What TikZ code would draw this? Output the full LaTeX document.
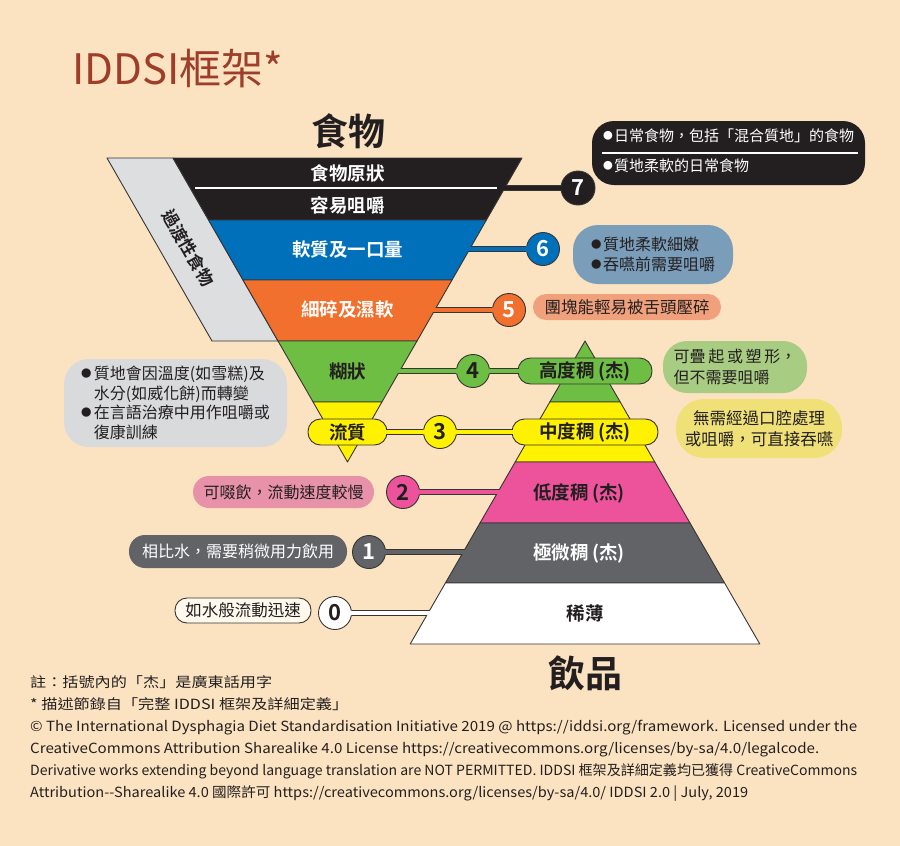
\documentclass[tikz,border=0pt]{standalone}
\usepackage{fontspec}
\usepackage{graphicx}
\setmainfont{Noto Sans CJK TC}[BoldFont={Noto Sans CJK TC Bold}]
\pgfdeclarelayer{bg}
\pgfdeclarelayer{fg}
\pgfsetlayers{bg,main,fg}

\definecolor{paper}{RGB}{251,227,193}
\definecolor{edgec}{RGB}{55,52,53}
\definecolor{txt}{RGB}{35,31,32}
\definecolor{ttl}{RGB}{158,62,42}
\definecolor{blk}{RGB}{35,31,32}
\definecolor{blu}{RGB}{0,112,187}
\definecolor{org}{RGB}{241,112,45}
\definecolor{grn}{RGB}{110,190,68}
\definecolor{yel}{RGB}{255,242,0}
\definecolor{pnk}{RGB}{236,83,155}
\definecolor{gry}{RGB}{98,99,102}
\definecolor{trans}{RGB}{221,222,224}
\definecolor{note6}{RGB}{122,157,185}
\definecolor{note5}{RGB}{240,160,122}
\definecolor{note4}{RGB}{168,204,130}
\definecolor{note3}{RGB}{239,224,120}
\definecolor{noteL}{RGB}{216,218,220}
\definecolor{note2}{RGB}{231,146,168}
\definecolor{note0}{RGB}{255,248,236}

\newcommand{\fsz}[1]{\fontsize{#1}{#1}\selectfont}
\newcommand{\bul}[1][11pt]{\makebox[#1][l]{\raisebox{.13em}{\scalebox{.65}{●}}}}

\tikzset{
  band/.style={draw=edgec, line width=0.9pt, line join=round},
  lbl/.style={font=\bfseries\fsz{18.5}, text=white, inner sep=0pt},
  numdot/.style={circle, draw=edgec, line width=0.9pt, minimum size=33pt,
    inner sep=0pt, font=\bfseries\fsz{22}},
  tab/.style={rectangle, rounded corners=12.5pt, draw=edgec, line width=0.9pt,
    minimum height=26pt, inner sep=0pt, font=\bfseries\fsz{18.5}, text=txt},
  note/.style={rectangle, inner sep=0pt, text=txt, font=\fsz{16}},
  wire/.style={line width=5.5pt, draw=edgec},
  core/.style={line width=3.6pt, shorten <=-1.5pt, shorten >=-1.5pt},
  foot/.style={anchor=base west, inner sep=0pt, font=\fsz{14}, text=txt},
}

\begin{document}
\begin{tikzpicture}[x=1pt,y=-1pt]
        \begin{pgfonlayer}{bg}
                \fill[paper] (0,0) rectangle (900,846);
        \end{pgfonlayer}

        % title and headings
        \node (title) [anchor=base west, inner sep=0pt, font=\fsz{42}, text=ttl] at (72,84) {IDDSI框架*};
        \node (food) [font=\bfseries\fsz{37}, text=txt] at (348,131) {食物};
        \node (drink) [font=\bfseries\fsz{37}, text=txt] at (585,673) {飲品};

        % food: inverted triangle
        \draw[band, fill=trans] (107,158) -- (173,158) -- (278,341) -- (212,341) -- cycle;
        \draw[band, fill=blk] (173,158) -- (522,158) -- (486.4,220) -- (208.6,220) -- cycle;
        \draw[band, fill=blu] (208.6,220) -- (486.4,220) -- (452,280) -- (243,280) -- cycle;
        \draw[band, fill=org] (243,280) -- (452,280) -- (417,341) -- (278,341) -- cycle;
        \draw[band, fill=grn] (278,341) -- (417,341) -- (381.9,402) -- (313.1,402) -- cycle;
        \draw[band, fill=yel] (313.1,402) -- (381.9,402) -- (347.5,462) -- cycle;
        \draw[white, line width=1.5pt] (195,188) -- (500,188);

        % drinks: pyramid
        \draw[band, fill=grn] (585,341) -- (620.2,402) -- (549.8,402) -- cycle;
        \draw[band, fill=yel] (549.8,402) -- (620.2,402) -- (654.8,462) -- (515.2,462) -- cycle;
        \draw[band, fill=pnk] (515.2,462) -- (654.8,462) -- (690,523) -- (480,523) -- cycle;
        \draw[band, fill=gry] (480,523) -- (690,523) -- (724.6,583) -- (445.4,583) -- cycle;
        \draw[band, fill=white] (445.4,583) -- (724.6,583) -- (759.8,644) -- (410.2,644) -- cycle;

        % connector ends inside the bands
        \coordinate (e7) at (498,188);
        \coordinate (e6) at (463,249);
        \coordinate (e5) at (428,310);
        \coordinate (e4) at (393,371);
        \coordinate (e2) at (504,492);
        \coordinate (e1) at (470,552);
        \coordinate (e0) at (434,613);

        % tabs
        \node (t4) [tab, fill=grn, minimum width=134pt] at (585,371) {高度稠\,(杰)};
        \node (t3a) [tab, fill=yel, minimum width=79pt] at (347.5,432) {流質};
        \node (t3b) [tab, fill=yel, minimum width=146pt] at (585,432) {中度稠\,(杰)};

        % level numbers
        \node (c7) [numdot, fill=blk, text=white, minimum size=34pt] at (578,188) {7};
        \node (c6) [numdot, fill=blu, text=white] at (543,249) {6};
        \node (c5) [numdot, fill=org, text=white] at (509,310) {5};
        \node (c4) [numdot, fill=grn, text=txt] at (473,371) {4};
        \node (c3) [numdot, fill=yel, text=txt] at (440,432) {3};
        \node (c2) [numdot, fill=pnk, text=txt] at (403,492) {2};
        \node (c1) [numdot, fill=gry, text=white] at (369,552) {1};
        \node (c0) [numdot, fill=white, text=txt] at (335,613) {0};

        % band labels
        \node (l7a) [lbl] at (347.5,173) {食物原狀};
        \node (l7b) [lbl] at (347.5,205) {容易咀嚼};
        \node (l6) [lbl] at (347.5,250) {軟質及一口量};
        \node (l5) [lbl] at (347.5,310) {細碎及濕軟};
        \node (l4) [lbl, text=txt] at (347.5,371) {糊狀};
        \node (l2) [lbl, text=txt] at (579,493) {低度稠\,(杰)};
        \node (l1) [lbl] at (579,553) {極微稠\,(杰)};
        \node (l0) [lbl, text=txt] at (585,613) {稀薄};
        \node (trn) [font=\bfseries\fsz{17}, text=txt, rotate=-60.2] at (188,248) {過渡性食物};

        % notes
        \node (b7) [note, fill=blk, minimum width=273pt, minimum height=64pt, rounded corners=22pt] at (728.5,153) {};
        \node (b7a) [note, text=white, font=\fsz{15}, anchor=west] at (603,136) {\bul 日常食物，包括「混合質地」的食物};
        \node (b7b) [note, text=white, font=\fsz{15}, anchor=west] at (603,166) {\bul 質地柔軟的日常食物};
        \draw[white, line width=1.2pt] ([xshift=10pt]b7.west) -- ([xshift=-7pt]b7.east);
        \node (b6) [note, fill=note6, minimum width=160pt, minimum height=59pt, rounded corners=25pt,
                align=left, font=\fontsize{16}{20}\selectfont] at (653,254.5)
                {\bul[12pt]質地柔軟細嫩\\\bul[12pt]吞嚥前需要咀嚼};
        \node (b5) [note, fill=note5, minimum width=188pt, minimum height=26pt, rounded corners=13pt,
                font=\fsz{16.5}] at (627,307) {團塊能輕易被舌頭壓碎};
        \node (b4) [note, fill=note4, minimum width=144pt, minimum height=52pt, rounded corners=24pt,
                align=left, font=\fontsize{16}{21}\selectfont] at (735,367)
                {可疊\,起\,或\,塑\,形，\\但不需要咀嚼};
        \node (b3) [note, fill=note3, minimum width=166pt, minimum height=59pt, rounded corners=28pt,
                align=center, font=\fontsize{16.5}{20.5}\selectfont] at (759,428.5)
                {無需經過口腔處理\\或咀嚼，可直接吞嚥};
        \node (bL) [note, fill=noteL, minimum width=223pt, minimum height=88pt, rounded corners=25pt,
                align=left, font=\fontsize{16}{19.8}\selectfont] at (175.5,403)
                {\bul[13pt]質地會因溫度(如雪糕)及\\\hspace*{13pt}水分(如威化餅)而轉變\\
                 \bul[13pt]在言語治療中用作咀嚼或\\\hspace*{13pt}復康訓練};
        \node (b2) [note, fill=note2, minimum width=181pt, minimum height=32pt, rounded corners=16pt]
                at (283.5,492) {可啜飲，流動速度較慢};
        \node (b1) [note, fill=gry, text=white, minimum width=218pt, minimum height=33pt, rounded corners=16pt]
                at (238,551.5) {相比水，需要稍微用力飲用};
        \node (b0) [note, fill=note0, draw=edgec, line width=0.9pt, minimum width=136pt, minimum height=25pt,
                rounded corners=12pt, font=\fsz{16.5}] at (243,610.5) {如水般流動迅速};

        % footer
        \node (f1) [foot] at (30,687) {\resizebox{242pt}{\height}{註：括號內的「杰」是廣東話用字}};
        \node (f2) [foot] at (30,709) {\resizebox{318pt}{\height}{* 描述節錄自「完整 IDDSI 框架及詳細定義」}};
        \node (f3) [foot] at (30,731) {\resizebox{827pt}{\height}{© The International Dysphagia Diet Standardisation Initiative 2019 @ https://iddsi.org/framework. Licensed under the}};
        \node (f4) [foot] at (30,753) {\resizebox{789pt}{\height}{CreativeCommons Attribution Sharealike 4.0 License https://creativecommons.org/licenses/by-sa/4.0/legalcode.}};
        \node (f5) [foot] at (30,775) {\resizebox{827pt}{\height}{Derivative works extending beyond language translation are NOT PERMITTED. IDDSI 框架及詳細定義均已獲得 CreativeCommons}};
        \node (f6) [foot] at (30,797) {\resizebox{718pt}{\height}{Attribution-{}-Sharealike 4.0 國際許可 https://creativecommons.org/licenses/by-sa/4.0/ IDDSI 2.0 | July, 2019}};

        \begin{pgfonlayer}{bg}
                \draw[wire] (e7) -- (c7);
                \draw[wire] (e6) -- (c6);
                \draw[wire] (e5) -- (c5);
                \draw[wire] (e4) -- (c4);
                \draw[wire] (c4) -- (t4);
                \draw[wire] (t3a) -- (c3);
                \draw[wire] (c3) -- (t3b);
                \draw[wire] (c2) -- (e2);
                \draw[wire] (c1) -- (e1);
                \draw[wire] (c0) -- (e0);
        \end{pgfonlayer}
        \begin{pgfonlayer}{fg}
                \draw[core, blk] (e7) -- (c7);
                \draw[core, blu] (e6) -- (c6);
                \draw[core, org] (e5) -- (c5);
                \draw[core, grn] (e4) -- (c4);
                \draw[core, grn] (c4) -- (t4);
                \draw[core, yel] (t3a) -- (c3);
                \draw[core, yel] (c3) -- (t3b);
                \draw[core, pnk] (c2) -- (e2);
                \draw[core, gry] (c1) -- (e1);
                \draw[core, white] (c0) -- (e0);
        \end{pgfonlayer}
\end{tikzpicture}
\end{document}
